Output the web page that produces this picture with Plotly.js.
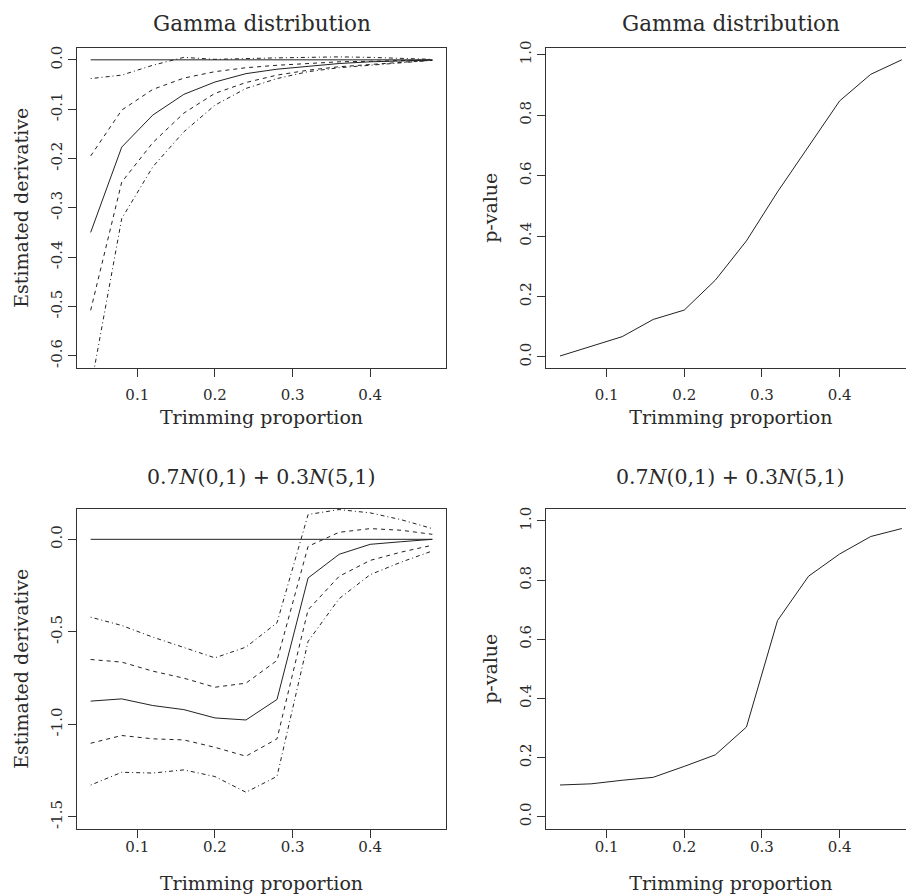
<!DOCTYPE html>
<html>
<head>
<meta charset="utf-8">
<script src="https://cdn.plot.ly/plotly-3.0.1.min.js"></script>
<style>
html,body{margin:0;padding:0;overflow:hidden;background:#fff;width:906px;height:894px;}
#chart{width:920px;height:894px;}
</style>
</head>
<body>
<div id="chart"></div>
<script>
// ---- data ----
const trim = [0.04, 0.08, 0.12, 0.16, 0.20, 0.24, 0.28, 0.32, 0.36, 0.40, 0.44, 0.48];

// Gamma distribution: estimated derivative
const gammaEst      = [-0.350, -0.177, -0.112, -0.070, -0.045, -0.028, -0.019, -0.013, -0.0075, -0.004, -0.002, -0.0005];
const gammaUpper95  = [-0.195, -0.102, -0.060, -0.037, -0.024, -0.016, -0.011, -0.007, -0.004, -0.003, -0.001, 0.000];
const gammaLower95  = [-0.508, -0.248, -0.168, -0.108, -0.068, -0.046, -0.031, -0.021, -0.014, -0.009, -0.005, -0.001];
const gammaUpper99  = [-0.038, -0.031, -0.011, 0.005, 0.001, 0.003, 0.004, 0.005, 0.006, 0.005, 0.003, 0.001];
const gammaLower99  = [-0.666, -0.322, -0.217, -0.146, -0.092, -0.058, -0.038, -0.024, -0.016, -0.011, -0.005, -0.001];
// Gamma distribution: p-value
const gammaP        = [0.003, 0.034, 0.067, 0.124, 0.155, 0.254, 0.384, 0.546, 0.695, 0.847, 0.935, 0.983];

// Mixture 0.7N(0,1)+0.3N(5,1): estimated derivative
const mixEst        = [-0.875, -0.863, -0.899, -0.921, -0.966, -0.977, -0.866, -0.209, -0.081, -0.027, -0.013, 0.000];
const mixUpper95    = [-0.650, -0.664, -0.713, -0.751, -0.800, -0.778, -0.655, -0.038, 0.038, 0.058, 0.049, 0.027];
const mixLower95    = [-1.103, -1.061, -1.079, -1.085, -1.125, -1.173, -1.079, -0.381, -0.200, -0.114, -0.069, -0.032];
const mixUpper99    = [-0.421, -0.466, -0.529, -0.583, -0.641, -0.583, -0.451, 0.134, 0.161, 0.143, 0.106, 0.058];
const mixLower99    = [-1.329, -1.260, -1.264, -1.247, -1.283, -1.368, -1.282, -0.552, -0.321, -0.191, -0.123, -0.063];
// Mixture: p-value
const mixP          = [0.107, 0.111, 0.123, 0.133, 0.170, 0.209, 0.303, 0.663, 0.813, 0.888, 0.947, 0.974];

const zeroRef = trim.map(() => 0);

// tick labels
const xTicks = [0.1, 0.2, 0.3, 0.4];
const xTickText = ['0.1', '0.2', '0.3', '0.4'];
const gammaYTicks = [0, -0.1, -0.2, -0.3, -0.4, -0.5, -0.6];
const gammaYText = ['0.0', '-0.1', '-0.2', '-0.3', '-0.4', '-0.5', '-0.6'];
const mixYTicks = [0, -0.5, -1.0, -1.5];
const mixYText = ['0.0', '-0.5', '-1.0', '-1.5'];
const pTicks = [0, 0.2, 0.4, 0.6, 0.8, 1.0];
const pText = ['0.0', '0.2', '0.4', '0.6', '0.8', '1.0'];

const titleGamma = 'Gamma distribution';
const titleMix = '0.7<i>N</i>(0,1) + 0.3<i>N</i>(5,1)';
const xTitle = 'Trimming proportion';
const yTitleEst = 'Estimated derivative';
const yTitleP = 'p-value';

// ---- layout ----
const W = 920, H = 894;
const FONT = 'DejaVu Serif, serif';
const TXT = '#2a2a2a';
const lineCol = '#222';
const DASH = '4px,4px';
const DOTDASH = '1px,3px,4px,3px';

function ln(x, y, xa, ya, dash) {
  return {x: x, y: y, xaxis: xa, yaxis: ya, type: 'scatter', mode: 'lines',
          line: {color: lineCol, width: 1, dash: dash || 'solid'}, hoverinfo: 'skip', showlegend: false};
}

const traces = [
  ln(trim, zeroRef, 'x', 'y'),
  ln(trim, gammaEst, 'x', 'y'),
  ln(trim, gammaUpper95, 'x', 'y', DASH),
  ln(trim, gammaLower95, 'x', 'y', DASH),
  ln(trim, gammaUpper99, 'x', 'y', DOTDASH),
  ln(trim, gammaLower99, 'x', 'y', DOTDASH),
  ln(trim, gammaP, 'x2', 'y2'),
  ln(trim, zeroRef, 'x3', 'y3'),
  ln(trim, mixEst, 'x3', 'y3'),
  ln(trim, mixUpper95, 'x3', 'y3', DASH),
  ln(trim, mixLower95, 'x3', 'y3', DASH),
  ln(trim, mixUpper99, 'x3', 'y3', DOTDASH),
  ln(trim, mixLower99, 'x3', 'y3', DOTDASH),
  ln(trim, mixP, 'x4', 'y4')
];

const xL = [77 / W, 446 / W];
const xR = [546.3 / W, 915.5 / W];
const yT = [1 - 367.5 / H, 1 - 48 / H];
const yB = [1 - 828.5 / H, 1 - 509 / H];
const xRange = [0.0224, 0.4976];

function xa(domain, anchor, lblOff, titleOff) {
  return {domain: domain, anchor: anchor, range: xRange, showgrid: false, zeroline: false,
          showline: true, mirror: true, linecolor: '#333', linewidth: 1,
          ticks: 'outside', ticklen: 8, tickcolor: '#333', tickwidth: 1,
          tickvals: xTicks, ticktext: xTickText, ticklabelstandoff: lblOff,
          tickfont: {family: FONT, size: 15, color: TXT},
          title: {text: xTitle, font: {family: FONT, size: 19, color: TXT}, standoff: titleOff}};
}
function ya(domain, anchor, range, tv, tt, title) {
  return {domain: domain, anchor: anchor, range: range, showgrid: false, zeroline: false,
          showline: true, mirror: true, linecolor: '#333', linewidth: 1,
          ticks: 'outside', ticklen: 8, tickcolor: '#333', tickwidth: 1,
          tickvals: tv, ticktext: tt, tickangle: -90, ticklabelstandoff: 0,
          tickfont: {family: FONT, size: 15, color: TXT},
          title: {text: title, font: {family: FONT, size: 19, color: TXT}, standoff: 14}};
}

const layout = {
  width: W, height: H,
  margin: {l: 0, r: 0, t: 0, b: 0},
  paper_bgcolor: '#fff', plot_bgcolor: '#fff',
  showlegend: false,
  xaxis: xa(xL, 'y', 5, 8),
  yaxis: ya(yT, 'x', [-0.624, 0.024], gammaYTicks, gammaYText, yTitleEst),
  xaxis2: xa(xR, 'y2', 5, 8),
  yaxis2: ya(yT, 'x2', [-0.035, 1.022], pTicks, pText, yTitleP),
  xaxis3: xa(xL, 'y3', -4, 22),
  yaxis3: ya(yB, 'x3', [-1.564, 0.164], mixYTicks, mixYText, yTitleEst),
  xaxis4: xa(xR, 'y4', -4, 22),
  yaxis4: ya(yB, 'x4', [-0.04, 1.04], pTicks, pText, yTitleP),
  annotations: [
    {text: titleGamma, xref: 'x domain', yref: 'paper', x: 0.5, y: 1 - 24 / H, xanchor: 'center', yanchor: 'middle', showarrow: false, font: {family: FONT, size: 21.5, color: TXT}},
    {text: titleGamma, xref: 'x2 domain', yref: 'paper', x: 0.5, y: 1 - 24 / H, xanchor: 'center', yanchor: 'middle', showarrow: false, font: {family: FONT, size: 21.5, color: TXT}},
    {text: titleMix, xref: 'x3 domain', yref: 'paper', x: 0.5, y: 1 - 477 / H, xanchor: 'center', yanchor: 'middle', showarrow: false, font: {family: FONT, size: 20.5, color: TXT}},
    {text: titleMix, xref: 'x4 domain', yref: 'paper', x: 0.5, y: 1 - 477 / H, xanchor: 'center', yanchor: 'middle', showarrow: false, font: {family: FONT, size: 20.5, color: TXT}}
  ]
};

Plotly.newPlot('chart', traces, layout, {staticPlot: true, displayModeBar: false});
</script>
</body>
</html>
